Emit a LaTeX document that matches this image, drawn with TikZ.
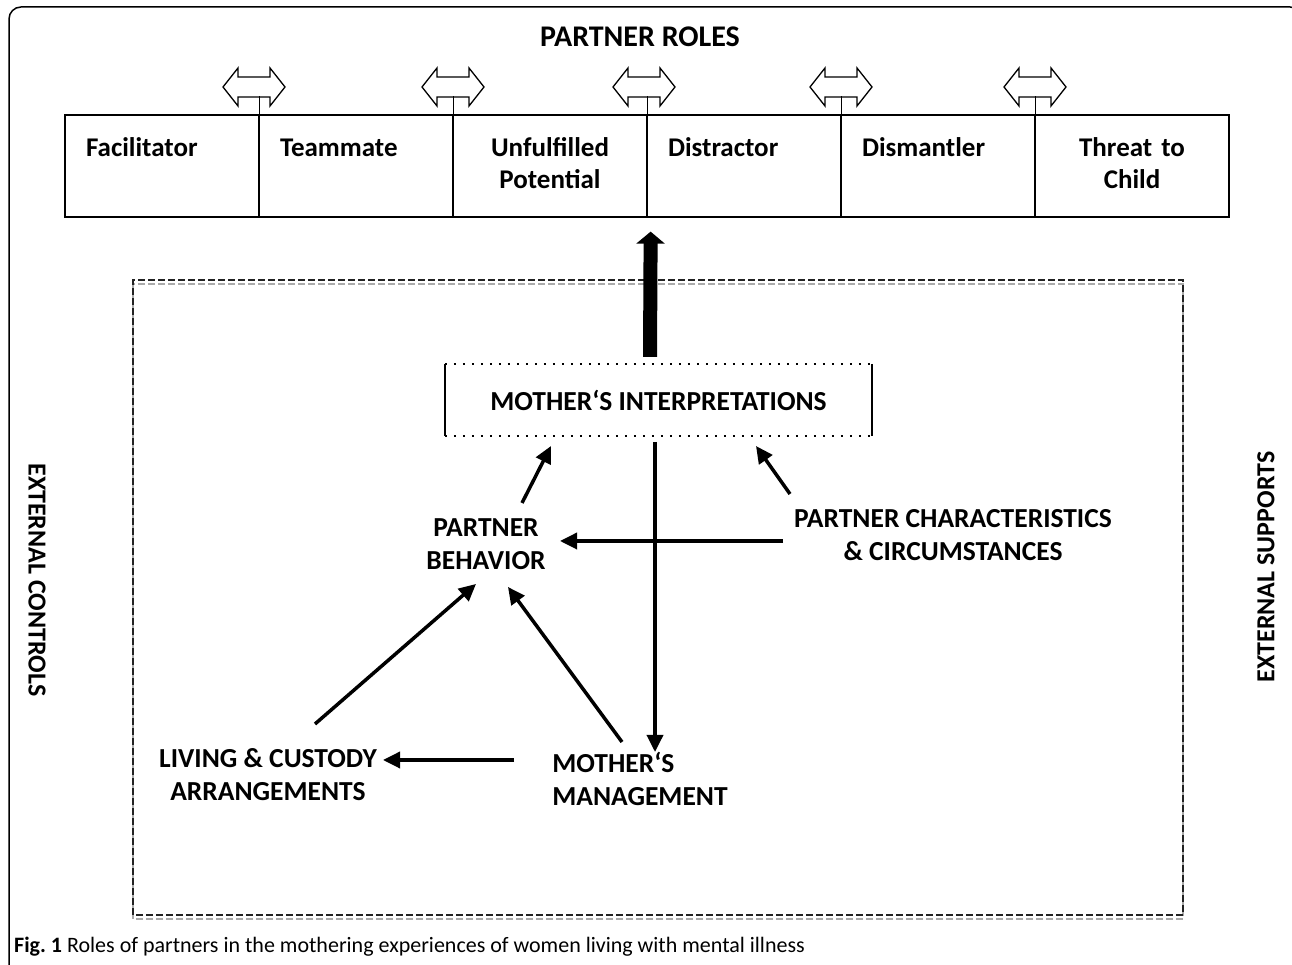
\documentclass[tikz,border=0pt]{standalone}
\usepackage{fontspec}
\setmainfont{Carlito}
\usetikzlibrary{arrows.meta,calc,positioning}
\definecolor{FRAME}{HTML}{222222}
\definecolor{SHADOW}{HTML}{AAAAAA}
\frenchspacing

\begin{document}
\begin{tikzpicture}[x=1pt,y=1pt,>={Triangle[length=17pt,width=16pt]}]
\tikzstyle{roleCell}=[draw=black,line width=1.3pt,minimum width=194pt,minimum height=102pt,inner sep=0pt,text width=152pt,font=\fontsize{27}{32}\selectfont\bfseries]
\tikzstyle{factor}=[align=center,inner sep=2pt,font=\fontsize{27.5}{33}\selectfont\bfseries]
\tikzstyle{myEdge}=[draw=black,line width=3.5pt,->]
\tikzstyle{side}=[inner sep=0pt,font=\fontsize{26}{30}\selectfont\bfseries]
\tikzstyle{swap}=[draw=black,line width=1.3pt,fill=white,line join=miter]

\newcommand{\swaparrow}[2]{
\draw[swap] (#1-31,#2) -- ++(15,19) -- ++(0,-9) -- ++(32,0) -- ++(0,9) -- ++(15,-19)
    -- ++(-15,-19) -- ++(0,9) -- ++(-32,0) -- ++(0,-9) -- cycle;
}

\useasboundingbox (0,0) rectangle (1292,965);
\clip (0,0) rectangle (1292,965);
\draw[line width=1.5pt,rounded corners=12pt] (9,-30) rectangle (1302,958);

% roles along the top
\node[font=\fontsize{30}{34}\selectfont\bfseries] (title) at (640,928) {PARTNER ROLES};

\foreach \i/\role/\al in {1/{Facilitator\\\strut}/left,2/{Teammate\\\strut}/left,3/{Unfulfilled\\Potential}/center,
    4/{Distractor\\\strut}/left,5/{Dismantler\\\strut}/left,6/{\mbox{Threat to}\\Child}/center}
    \node[roleCell,align=\al] (cell\i) at (65+194*\i-97,799) {\strut\role\strut};

\foreach \i/\ax in {1/254,2/453,3/644,4/841,5/1035} {
    \swaparrow{\ax}{878}
    \coordinate (tick\i) at ($(cell\i.north east)+(0,18)$);
    \draw[line width=1.3pt] (tick\i) -- (cell\i.south east);
}

% dashed frame
\draw[SHADOW,line width=2.5pt,dash pattern=on 7pt off 3pt] (133,46) rectangle (1183,681);
\draw[FRAME,line width=2.5pt,dash pattern=on 7pt off 3pt] (133,50) rectangle (1183,685);

\node[side,rotate=-90] (ctrl) at (37,385) {EXTERNAL CONTROLS};
\node[side,rotate=90] (supp) at (1266,398) {EXTERNAL SUPPORTS};

% factors
\node[factor,minimum width=427pt,minimum height=72pt] (mi) at (658.5,565) {MOTHER‘S INTERPRETATIONS};
\draw[line width=2pt,dash pattern=on 2pt off 7pt] (mi.north west) -- (mi.north east);
\draw[line width=2pt,dash pattern=on 2pt off 7pt] (mi.south west) -- (mi.south east);
\draw[line width=1.5pt] (mi.north west) -- (mi.south west);
\draw[line width=1.5pt] (mi.north east) -- (mi.south east);

\node[factor] (pb) at (486,421) {PARTNER\\BEHAVIOR};
\node[factor] (pcc) at (953,430) {PARTNER CHARACTERISTICS\\\& CIRCUMSTANCES};
\node[factor] (lca) at (268,190) {LIVING \& CUSTODY\\ARRANGEMENTS};
\node[factor,align=left] (mm) at (640,186) {MOTHER‘S\\MANAGEMENT};

\draw[line width=14pt,-{Triangle[length=12pt,width=28pt]}] ($(mi.north)+(-8.5,7)$) -- ($(cell3.south east)+(3,-14)$);

\draw[myEdge] ($(pb)+(36,41)$) -- ($(mi)+(-107.5,-46)$);
\draw[myEdge] ($(pcc)+(-163,41)$) -- ($(mi)+(97.5,-46)$);
\draw[myEdge] ($(pcc)+(-170,-6)$) -- ($(pb)+(74,3)$);
\draw[myEdge] ($(mi)+(-3.5,-42)$) -- ($(mm)+(15,27)$);
\draw[myEdge] ($(mm)+(-18,37)$) -- ($(pb)+(22,-43)$);
\draw[myEdge] ($(lca)+(47,51)$) -- ($(pb)+(-10,-40)$);
\draw[myEdge] ($(mm)+(-126,19)$) -- ($(lca)+(115,15)$);

\node[anchor=west,inner sep=0pt,font=\fontsize{22}{26}\selectfont] (caption) at (14,18)
    {\textbf{Fig. 1} Roles of partners in the mothering experiences of women living with mental illness};
\end{tikzpicture}
\end{document}
